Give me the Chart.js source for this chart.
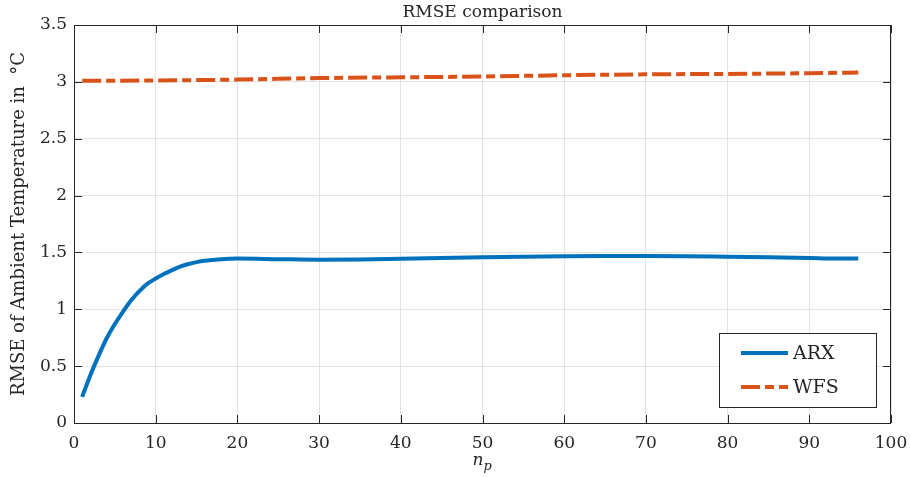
<!DOCTYPE html>
<html>
<head>
<meta charset="utf-8">
<script src="https://cdn.jsdelivr.net/npm/chart.js@4/dist/chart.umd.min.js"></script>
<style>
  html, body { margin: 0; padding: 0; background: #fff; }
</style>
</head>
<body>
<canvas id="rmse" width="910" height="477"></canvas>
<script>
// horizon n_p and RMSE values
const arxN = [1, 2, 3, 4, 5, 6, 7, 8, 9, 10, 11, 12, 13, 14, 15, 16, 18, 20, 25, 30, 35, 40, 45, 50, 55, 60, 65, 70, 75, 80, 85, 90, 93, 96];
const arxRmse = [0.23, 0.42, 0.59, 0.745, 0.87, 0.98, 1.08, 1.16, 1.225, 1.27, 1.31, 1.345, 1.375, 1.398, 1.415, 1.427, 1.441, 1.446, 1.441, 1.436, 1.438, 1.445, 1.452, 1.458, 1.463, 1.467, 1.469, 1.469, 1.467, 1.462, 1.457, 1.452, 1.447, 1.447];

const wfsN = [1, 10, 20, 30, 40, 50, 60, 70, 80, 90, 96];
const wfsRmse = [3.01, 3.012, 3.02, 3.033, 3.04, 3.047, 3.058, 3.066, 3.07, 3.076, 3.082];

const xTicks = [0, 10, 20, 30, 40, 50, 60, 70, 80, 90, 100];
const yTicks = [0, 0.5, 1, 1.5, 2, 2.5, 3, 3.5];

const FONT = '"DejaVu Serif", "Liberation Serif", serif';
const AXIS = '#262626';
const ARX_COLOR = '#0072BD';
const WFS_COLOR = '#D95319';
const DASH = [19, 5, 9, 5];

const toPoints = (xs, ys) => xs.map((x, i) => ({ x: x, y: ys[i] }));

// box, inward ticks, title, axis labels and legend in the MATLAB look
const matlabFrame = {
    id: 'matlabFrame',
    afterDraw(chart) {
        const { ctx, chartArea: a, scales } = chart;
        const tl = 8;
        ctx.save();
        ctx.strokeStyle = AXIS;
        ctx.lineWidth = 1;
        ctx.strokeRect(a.left + 0.5, a.top + 0.5, a.right - a.left - 1, a.bottom - a.top);
        ctx.beginPath();
        xTicks.forEach(v => {
            const px = Math.round(scales.x.getPixelForValue(v)) + 0.5;
            ctx.moveTo(px, a.bottom); ctx.lineTo(px, a.bottom - tl);
            ctx.moveTo(px, a.top); ctx.lineTo(px, a.top + tl);
        });
        yTicks.forEach(v => {
            const py = Math.round(scales.y.getPixelForValue(v)) + 0.5;
            ctx.moveTo(a.left, py); ctx.lineTo(a.left + tl, py);
            ctx.moveTo(a.right, py); ctx.lineTo(a.right - tl, py);
        });
        ctx.stroke();

        // title
        ctx.fillStyle = AXIS;
        ctx.font = '17px ' + FONT;
        ctx.textAlign = 'center';
        ctx.textBaseline = 'alphabetic';
        ctx.fillText('RMSE comparison', (a.left + a.right) / 2, 17);

        // x label n_p
        const cx = (a.left + a.right) / 2;
        ctx.font = 'italic 17px ' + FONT;
        ctx.textAlign = 'right';
        ctx.fillText('n', cx + 1, 465);
        ctx.font = 'italic 13px ' + FONT;
        ctx.textAlign = 'left';
        ctx.fillText('p', cx + 1, 470);

        // y label
        ctx.save();
        ctx.translate(24, (a.top + a.bottom) / 2);
        ctx.rotate(-Math.PI / 2);
        ctx.font = '18px ' + FONT;
        ctx.textAlign = 'center';
        ctx.fillText('RMSE of Ambient Temperature in  \u00B0C', 0, 0);
        ctx.restore();

        // legend
        const lx = 719, ly = 333, lw = 157, lh = 74;
        ctx.fillStyle = '#fff';
        ctx.fillRect(lx, ly, lw, lh);
        ctx.strokeStyle = AXIS;
        ctx.strokeRect(lx + 0.5, ly + 0.5, lw, lh);
        const items = [
            { label: 'ARX', color: ARX_COLOR, dash: [], y: 353 },
            { label: 'WFS', color: WFS_COLOR, dash: DASH, y: 387 }
        ];
        items.forEach(it => {
            ctx.beginPath();
            ctx.strokeStyle = it.color;
            ctx.lineWidth = 4;
            ctx.setLineDash(it.dash);
            ctx.moveTo(741, it.y); ctx.lineTo(788, it.y);
            ctx.stroke();
            ctx.setLineDash([]);
            ctx.fillStyle = AXIS;
            ctx.font = '19px ' + FONT;
            ctx.textAlign = 'left';
            ctx.textBaseline = 'middle';
            ctx.fillText(it.label, 793, it.y + 1);
        });
        ctx.restore();
    }
};

const ctx = document.getElementById('rmse').getContext('2d');
new Chart(ctx, {
    type: 'line',
    data: {
        datasets: [{
            label: 'ARX',
            data: toPoints(arxN, arxRmse),
            borderColor: ARX_COLOR,
            borderWidth: 4,
            pointRadius: 0,
            cubicInterpolationMode: 'monotone',
            fill: false
        }, {
            label: 'WFS',
            data: toPoints(wfsN, wfsRmse),
            borderColor: WFS_COLOR,
            borderWidth: 4,
            borderDash: DASH,
            pointRadius: 0,
            cubicInterpolationMode: 'monotone',
            fill: false
        }]
    },
    options: {
        responsive: false,
        animation: false,
        devicePixelRatio: 1,
        layout: { padding: { left: 0, right: 19, top: 25, bottom: 0 } },
        plugins: {
            legend: { display: false },
            title: { display: false },
            tooltip: { enabled: false }
        },
        scales: {
            x: {
                type: 'linear',
                min: 0,
                max: 100,
                afterFit: s => { s.height = 54; s.paddingLeft = 0; s.paddingRight = 0; },
                afterBuildTicks: s => { s.ticks = xTicks.map(v => ({ value: v })); },
                grid: { color: '#e3e3e3', drawTicks: false },
                border: { display: false },
                ticks: {
                    padding: 10,
                    color: AXIS,
                    font: { family: FONT, size: 17 },
                    maxRotation: 0,
                    callback: v => String(v)
                }
            },
            y: {
                min: 0,
                max: 3.5,
                afterFit: s => { s.width = 74; s.paddingTop = 0; s.paddingBottom = 0; },
                afterBuildTicks: s => { s.ticks = yTicks.map(v => ({ value: v })); },
                grid: { color: '#e3e3e3', drawTicks: false },
                border: { display: false },
                ticks: {
                    padding: 7,
                    color: AXIS,
                    font: { family: FONT, size: 17 },
                    callback: v => String(v)
                }
            }
        }
    },
    plugins: [matlabFrame]
});
</script>
</body>
</html>
